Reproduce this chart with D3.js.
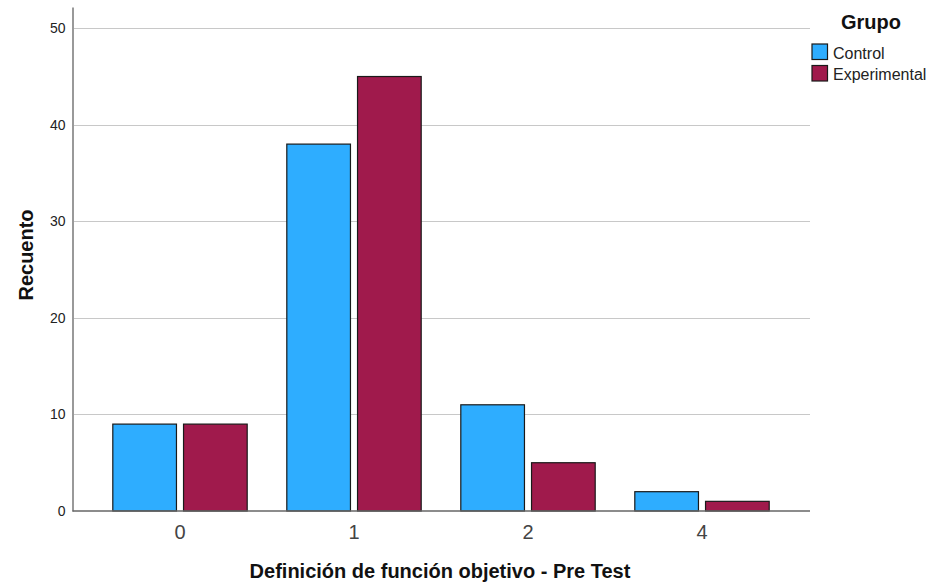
<!DOCTYPE html>
<html><head><meta charset="utf-8">
<script src="https://cdn.jsdelivr.net/npm/d3@7"></script>
<style>body{margin:0;background:#fff}svg{display:block;font-family:"Liberation Sans",Arial,sans-serif}</style>
</head><body><svg id="c" width="931" height="586"></svg>
<script>
const categories = ["0","1","2","4"];
const groups = ["Control","Experimental"];
const controlValues = [9,38,11,2];
const experimentalValues = [9,45,5,1];
const yTicks = [0,10,20,30,40,50];
const colors = ["#2eadff","#a01a4c"];

const svg = d3.select("#c");
const x0 = d3.scaleBand().domain(categories).range([93,789]).padding(0);
const x1 = d3.scaleBand().domain(groups).range([0,x0.bandwidth()]).paddingInner(0.1).paddingOuter(0.28);
const y = d3.scaleLinear().domain([0,52.2]).range([511,7]);
const left = 72.5, right = 810;

// gridlines
svg.append("g").selectAll("line").data(yTicks.filter(d=>d>0)).join("line")
  .attr("x1",left).attr("x2",right).attr("y1",d=>Math.round(y(d))+0.5).attr("y2",d=>Math.round(y(d))+0.5)
  .attr("stroke","#c8c8c8").attr("stroke-width",1);

// bars
const series = [controlValues, experimentalValues];
const data = [];
categories.forEach((c,i)=>groups.forEach((g,j)=>data.push({c,g,v:series[j][i],j})));
svg.append("g").selectAll("rect").data(data).join("rect")
  .attr("x",d=>x0(d.c)+x1(d.g)).attr("width",x1.bandwidth())
  .attr("y",d=>y(d.v)).attr("height",d=>y(0)-y(d.v))
  .attr("fill",d=>colors[d.j]).attr("stroke","#1a1a1a").attr("stroke-width",1.2);

// y axis
const ya = d3.axisLeft(y).tickValues(yTicks).tickSize(0).tickPadding(7);
const yg = svg.append("g").attr("transform",`translate(${left},0)`).call(ya);
yg.select(".domain").attr("stroke","#999").attr("stroke-width",2);
yg.selectAll("text").attr("font-size",14).attr("fill","#222").attr("font-family","Liberation Sans,Arial,sans-serif");

// x axis
const xa = d3.axisBottom(x0).tickSize(0).tickPadding(14);
const xg = svg.append("g").attr("transform",`translate(0,${y(0)})`).call(xa);
xg.select(".domain").remove();
svg.append("line").attr("x1",left).attr("x2",right).attr("y1",y(0)).attr("y2",y(0)).attr("stroke","#666").attr("stroke-width",1.5);
xg.selectAll("text").attr("font-size",20).attr("fill","#444").attr("font-family","Liberation Sans,Arial,sans-serif");

// titles
svg.append("text").attr("x",440).attr("y",578).attr("text-anchor","middle")
  .attr("font-size",20).attr("font-weight","bold").attr("fill","#111").text("Definición de función objetivo - Pre Test");
svg.append("text").attr("transform","translate(33,255) rotate(-90)").attr("text-anchor","middle")
  .attr("font-size",20).attr("font-weight","bold").attr("fill","#111").text("Recuento");

// legend
svg.append("text").attr("x",871).attr("y",29).attr("text-anchor","middle")
  .attr("font-size",20).attr("font-weight","bold").attr("fill","#111").text("Grupo");
const lg = svg.append("g").selectAll("g").data(groups).join("g")
  .attr("transform",(d,i)=>`translate(812,${44+i*21.5})`);
lg.append("rect").attr("width",15.5).attr("height",15.5).attr("fill",(d,i)=>colors[i]).attr("stroke","#1a1a1a").attr("stroke-width",1.2);
lg.append("text").attr("x",21).attr("y",14.5).attr("font-size",16).attr("fill","#222").text(d=>d);
</script></body></html>
